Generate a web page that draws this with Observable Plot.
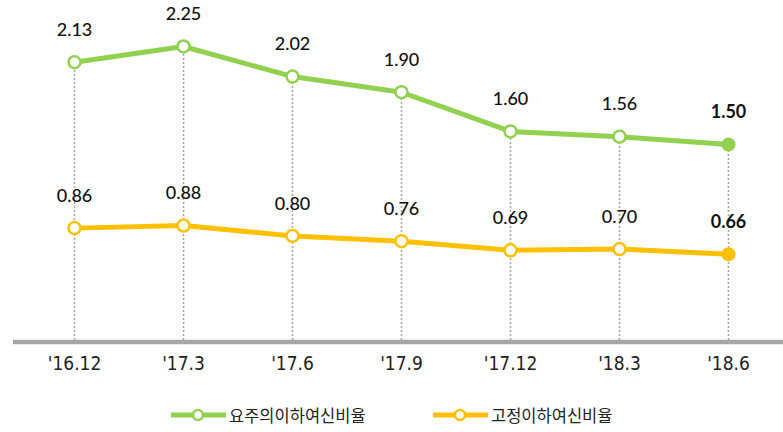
<!DOCTYPE html>
<html>
<head>
<meta charset="utf-8">
<script src="https://cdn.jsdelivr.net/npm/d3@7"></script>
<script src="https://cdn.jsdelivr.net/npm/@observablehq/plot@0.6"></script>
<style>
  body { margin: 0; background: #fff; }
  #legend { display: flex; height: 32px; align-items: center; font-family: "Noto Sans CJK KR", sans-serif; font-size: 16.5px; color: #222; }
  .item { display: flex; align-items: center; position: absolute; }
</style>
</head>
<body>
<div id="chart"></div>
<div id="legend" style="position:relative;"></div>
<script>
const periods = ["'16.12", "'17.3", "'17.6", "'17.9", "'17.12", "'18.3", "'18.6"];
const substandardRatio = [2.13, 2.25, 2.02, 1.90, 1.60, 1.56, 1.50];
const fixedRatio = [0.86, 0.88, 0.80, 0.76, 0.69, 0.70, 0.66];
const seriesNames = ["요주의이하여신비율", "고정이하여신비율"];
const seriesColors = ["#92D050", "#FFC000"];

const rows = [];
[substandardRatio, fixedRatio].forEach((vals, s) => {
  vals.forEach((v, i) => rows.push({period: periods[i], value: v, series: seriesNames[s], last: i === periods.length - 1}));
});
const upperRows = rows.filter(d => d.series === seriesNames[0]);

const chart = Plot.plot({
  width: 783,
  height: 400,
  marginTop: 0,
  marginLeft: 13,
  marginRight: 0,
  marginBottom: 60,
  x: {type: "point", domain: periods, range: [73, 729], padding: 0},
  y: {domain: [0, 2.602], range: [340, 0], axis: null},
  color: {domain: seriesNames, range: seriesColors},
  marks: [
    Plot.ruleX(upperRows, {x: "period", y1: 0, y2: "value", stroke: "#a6a6a6", strokeWidth: 1.5, strokeDasharray: "2,2"}),
    Plot.ruleY([0], {stroke: "#a6a6a6", strokeWidth: 4.5, dy: 1.5}),
    Plot.line(rows, {x: "period", y: "value", z: "series", stroke: "series", strokeWidth: 5}),
    Plot.dot(rows.filter(d => !d.last), {x: "period", y: "value", stroke: "series", fill: "white", r: 6, strokeWidth: 2.5}),
    Plot.dot(rows.filter(d => d.last), {x: "period", y: "value", fill: "series", r: 7}),
    Plot.text(rows.filter(d => !d.last), {x: "period", y: "value", text: d => d.value.toFixed(2), dy: -32, fontSize: 18, fontWeight: 500, fontFamily: "Lato", fill: "#111"}),
    Plot.text(rows.filter(d => d.last), {x: "period", y: "value", text: d => d.value.toFixed(2), dy: -32, fontSize: 18, fontWeight: "bold", fontFamily: "Lato", fill: "#111"}),
    Plot.axisX({tickSize: 0, tickPadding: 16, fontSize: 19, fontFamily: "DejaVu Sans Condensed", fill: "#222", label: null})
  ]
});
document.getElementById("chart").appendChild(chart);

const legend = document.getElementById("legend");
const lx = [170, 432];
seriesNames.forEach((name, i) => {
  const item = document.createElement("div");
  item.className = "item";
  item.style.left = lx[i] + "px";
  item.style.top = "3px";
  item.innerHTML = `<svg width="58" height="20"><line x1="1" x2="56" y1="10" y2="10" stroke="${seriesColors[i]}" stroke-width="5"/><circle cx="28" cy="10" r="5" fill="white" stroke="${seriesColors[i]}" stroke-width="2.5"/></svg><span style="margin-left:1px">${name}</span>`;
  legend.appendChild(item);
});
</script>
</body>
</html>
